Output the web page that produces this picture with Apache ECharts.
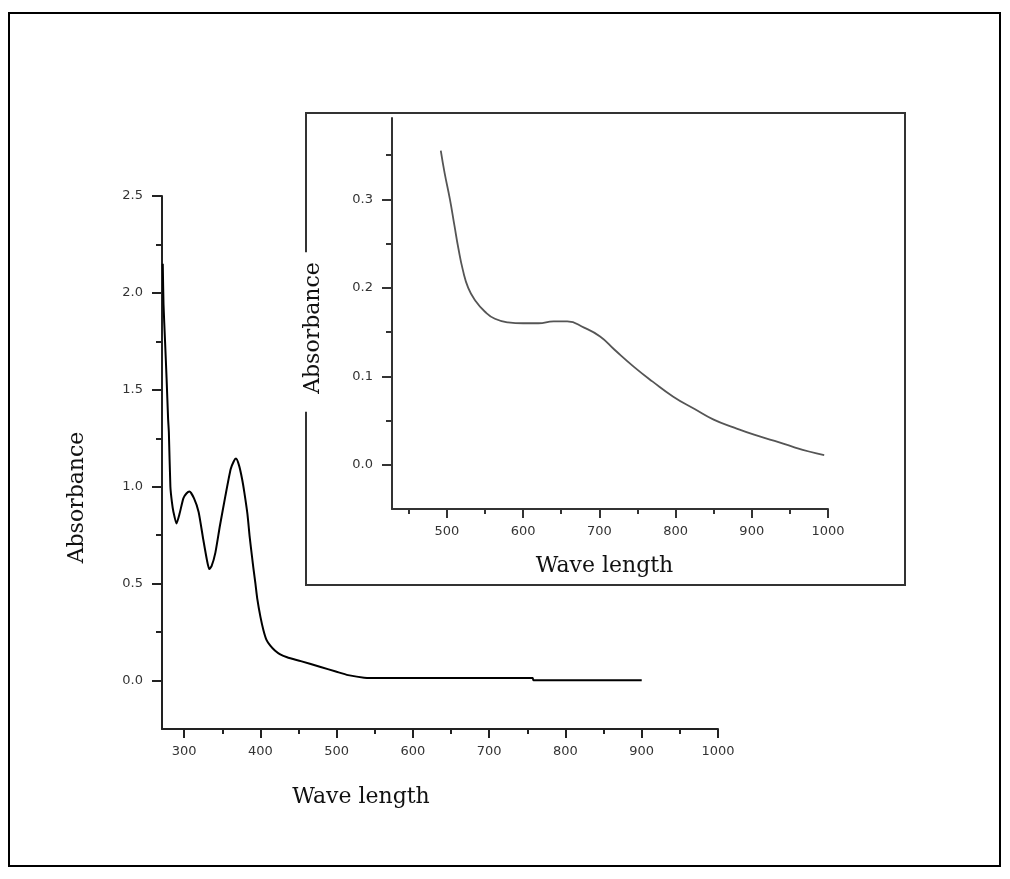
<!DOCTYPE html>
<html>
<head>
<meta charset="utf-8">
<script src="https://cdn.jsdelivr.net/npm/echarts@6/dist/echarts.min.js"></script>
<style>
html,body{margin:0;padding:0;background:#fff;}
#c{width:1010px;height:879px;}
</style>
</head>
<body>
<div id="c"></div>
<script>
// ---- main spectrum ----
const mainWave = [272, 273, 275, 277, 279, 280, 282, 284, 286, 290, 294, 299, 303, 307, 313, 319, 325, 330, 333, 336, 341, 347, 354, 361, 365, 368, 372, 376, 379, 383, 386, 389, 391, 393.5, 396, 400, 404, 408, 413, 419, 426, 435, 453, 479, 500, 515, 536, 560, 757, 758, 900];
const mainAbs  = [2.15, 1.94, 1.75, 1.56, 1.35, 1.28, 1.0, 0.92, 0.87, 0.81, 0.86, 0.94, 0.965, 0.975, 0.94, 0.87, 0.73, 0.62, 0.575, 0.59, 0.66, 0.80, 0.95, 1.09, 1.13, 1.145, 1.11, 1.04, 0.97, 0.86, 0.74, 0.64, 0.575, 0.5, 0.42, 0.33, 0.26, 0.21, 0.18, 0.155, 0.135, 0.12, 0.1, 0.07, 0.045, 0.028, 0.015, 0.013, 0.013, 0.002, 0.002];
// ---- inset spectrum ----
const insetWave = [492, 497, 504, 510, 515, 521, 528, 537, 550, 563, 580, 600, 620, 640, 658, 680, 701, 720, 745, 770, 797, 825, 850, 877, 903, 930, 955, 975, 995];
const insetAbs  = [0.355, 0.33, 0.30, 0.27, 0.245, 0.22, 0.20, 0.186, 0.173, 0.165, 0.161, 0.160, 0.160, 0.162, 0.162, 0.155, 0.145, 0.13, 0.111, 0.094, 0.077, 0.063, 0.051, 0.042, 0.034, 0.027, 0.020, 0.015, 0.011];
// ---- ticks ----
const mainXMajor = [300, 400, 500, 600, 700, 800, 900, 1000];
const mainXMinor = [350, 450, 550, 650, 750, 850, 950];
const mainYMajor = [0, 0.5, 1.0, 1.5, 2.0, 2.5];
const mainYMinor = [0.25, 0.75, 1.25, 1.75, 2.25];
const insetXMajor = [500, 600, 700, 800, 900, 1000];
const insetXMinor = [450, 550, 650, 750, 850, 950];
const insetYMajor = [0, 0.1, 0.2, 0.3];
const insetYMinor = [0.05, 0.15, 0.25, 0.35];

const zip = (a, b) => a.map((v, i) => [v, b[i]]);
const lblFont = {fontFamily: 'DejaVu Sans', fontSize: 13, color: '#333'};
const nameFont = {fontFamily: 'DejaVu Serif', fontSize: 22, color: '#111'};
const lineMain = {show: true, onZero: false, lineStyle: {color: '#222', width: 2}};
const lineInset = {show: true, onZero: false, lineStyle: {color: '#333', width: 2}};

function majorX(grid, min, max, ticks, line, extra) {
  return Object.assign({
    gridIndex: grid, type: 'value', position: 'bottom', min: min, max: max,
    axisLine: line,
    axisTick: {show: true, customValues: ticks, length: 9, lineStyle: {color: line.lineStyle.color, width: 2}},
    axisLabel: Object.assign({customValues: ticks, margin: 16, formatter: v => String(v)}, lblFont),
    splitLine: {show: false}
  }, extra);
}
function minorX(grid, min, max, ticks, color) {
  return {
    gridIndex: grid, type: 'value', position: 'bottom', min: min, max: max,
    axisLine: {show: false, onZero: false},
    axisTick: {show: true, customValues: ticks, length: 5, lineStyle: {color: color, width: 2}},
    axisLabel: {show: false}, splitLine: {show: false}
  };
}
function majorY(grid, min, max, ticks, line, extra) {
  return Object.assign({
    gridIndex: grid, type: 'value', position: 'left', min: min, max: max,
    axisLine: line,
    axisTick: {show: true, customValues: ticks, length: 10, lineStyle: {color: line.lineStyle.color, width: 2}},
    axisLabel: Object.assign({customValues: ticks, margin: 19, formatter: v => Number(v).toFixed(1)}, lblFont),
    splitLine: {show: false}
  }, extra);
}
function minorY(grid, min, max, ticks, color) {
  return {
    gridIndex: grid, type: 'value', position: 'left', min: min, max: max,
    axisLine: {show: false, onZero: false},
    axisTick: {show: true, customValues: ticks, length: 6, lineStyle: {color: color, width: 2}},
    axisLabel: {show: false}, splitLine: {show: false}
  };
}

const chart = echarts.init(document.getElementById('c'), null, {renderer: 'canvas'});
chart.setOption({
  animation: false,
  backgroundColor: '#fff',
  graphic: [{
    type: 'rect', z: 0, silent: true,
    shape: {x: 9, y: 13, width: 991, height: 853},
    style: {fill: 'none', stroke: '#000', lineWidth: 2}
  }],
  grid: [
    {left: 162, top: 196, right: 292, bottom: 150, z: 2},
    {left: 392, top: 118, right: 182, bottom: 370, z: 4},
    {left: 306, top: 113, right: 105, bottom: 294, show: true, borderColor: '#333', borderWidth: 2, backgroundColor: 'rgba(0,0,0,0)', z: 3}
  ],
  xAxis: [
    majorX(0, 271, 1000, mainXMajor, lineMain, {name: 'Wave length', nameLocation: 'middle', nameGap: 57,
      nameTextStyle: Object.assign({padding: [0, 158, 0, 0]}, nameFont)}),
    minorX(0, 271, 1000, mainXMinor, '#222'),
    majorX(1, 428, 1000, insetXMajor, lineInset, {z: 6, name: 'Wave length', nameLocation: 'middle', nameGap: 46,
      nameTextStyle: Object.assign({padding: [0, 11, 0, 0]}, nameFont)}),
    minorX(1, 428, 1000, insetXMinor, '#333'),
    {gridIndex: 2, type: 'value', show: false, min: 0, max: 1}
  ],
  yAxis: [
    majorY(0, -0.25, 2.5, mainYMajor, lineMain, {name: 'Absorbance', nameLocation: 'middle', nameGap: 74,
      nameTextStyle: Object.assign({padding: [0, 70, 0, 0]}, nameFont)}),
    minorY(0, -0.25, 2.5, mainYMinor, '#222'),
    majorY(1, -0.05, 0.392, insetYMajor, lineInset, {z: 6, name: '{a|Absorbance}', nameLocation: 'middle', nameGap: 66,
      nameTextStyle: {padding: [0, 37, 0, 0], rich: {a: Object.assign({backgroundColor: '#fff', padding: [2, 10, 2, 18]}, nameFont)}}}),
    minorY(1, -0.05, 0.392, insetYMinor, '#333'),
    {gridIndex: 2, type: 'value', show: false, min: 0, max: 1}
  ],
  series: [
    {type: 'line', xAxisIndex: 0, yAxisIndex: 0, data: zip(mainWave, mainAbs), showSymbol: false, smooth: 0.2,
      lineStyle: {color: '#000', width: 2}, z: 5},
    {type: 'line', xAxisIndex: 2, yAxisIndex: 2, data: zip(insetWave, insetAbs), showSymbol: false, smooth: 0.5,
      lineStyle: {color: '#555', width: 1.8}, z: 5}
  ]
});
</script>
</body>
</html>
